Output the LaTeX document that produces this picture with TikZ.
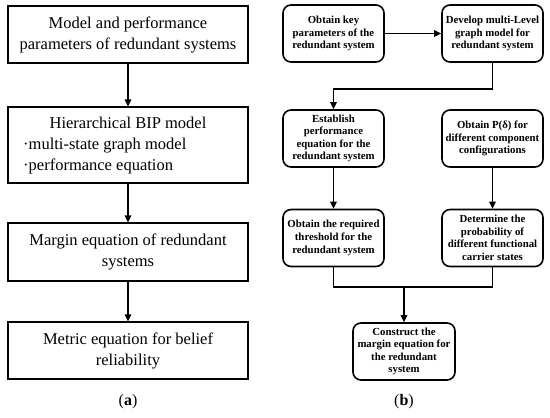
\documentclass[tikz,border=0pt]{standalone}
\usepackage{fontspec}
\setmainfont{Liberation Serif}
\usetikzlibrary{arrows.meta}
\begin{document}
\begin{tikzpicture}[x=1pt,y=-1pt,
 afont/.style={font=\fontsize{16.5}{21}\selectfont},
 abox/.style={draw, line width=1.2pt, minimum width=240pt, inner sep=0pt, align=center, afont},
 bbox/.style={draw, line width=1.6pt, rounded corners=8pt, minimum width=101pt, minimum height=57pt, inner sep=0pt, align=center, font=\bfseries\fontsize{10.8}{12.6}\selectfont},
 arr/.style={line width=1.4pt, -{Triangle[length=7pt,width=6.5pt]}},
 ln/.style={line width=1.4pt}]
\useasboundingbox[fill=white] (0,0) rectangle (550,418);
% panel (a)
\node[abox, minimum height=57pt] (a1) at (128,34.5) {Model and performance\\parameters of redundant systems};
\node[abox, minimum height=76pt] (a2) at (128,145) {};
\node[afont] (a2t) at (128,123) {Hierarchical BIP model};
\node[afont, anchor=west, inner sep=0pt] (a2b) at (23,146) {·multi-state graph model};
\node[afont, anchor=west, inner sep=0pt] (a2c) at (23,166) {·performance equation};
\node[abox, minimum height=58pt] (a3) at (128,252) {Margin equation of redundant\\systems};
\node[abox, minimum height=57pt] (a4) at (128,350.5) {Metric equation for belief\\reliability};
\draw[arr] (a1) -- (a2);
\draw[arr] (a2) -- (a3);
\draw[arr] (a3) -- (a4);
\node[font=\fontsize{16}{18}\selectfont] (la) at (128,402) {(\textbf{a})};
% panel (b)
\node[bbox] (b1) at (333.5,33.5) {Obtain key\\parameters of the\\redundant system};
\node[bbox] (b2) at (492.5,33.5) {Develop multi-Level\\graph model for\\redundant system};
\node[bbox] (b3) at (333.5,138.5) {Establish\\performance\\equation for the\\redundant system};
\node[bbox] (b4) at (492.5,138.5) {Obtain P(δ) for\\different component\\configurations};
\node[bbox] (b5) at (333.5,238) {Obtain the required\\threshold for the\\redundant system};
\node[bbox] (b6) at (492.5,238) {Determine the\\probability of\\different functional\\carrier states};
\node[bbox, minimum width=102pt] (b7) at (404,351.5) {Construct the\\margin equation for\\the redundant\\system};
\coordinate (c1) at (333.5,89);
\coordinate (c2) at (404,287);
\draw[arr] (b1) -- (b2);
\draw[arr] (b2.south) |- (c1) -- (b3.north);
\draw[arr] (b3) -- (b5);
\draw[arr] (b4) -- (b6);
\draw[ln] (b5.south) |- (b6.south |- c2) -- (b6.south);
\draw[arr] (c2) -- (b7.north);
\node[font=\fontsize{16}{18}\selectfont] (lb) at (404,402) {(\textbf{b})};
\end{tikzpicture}
\end{document}
